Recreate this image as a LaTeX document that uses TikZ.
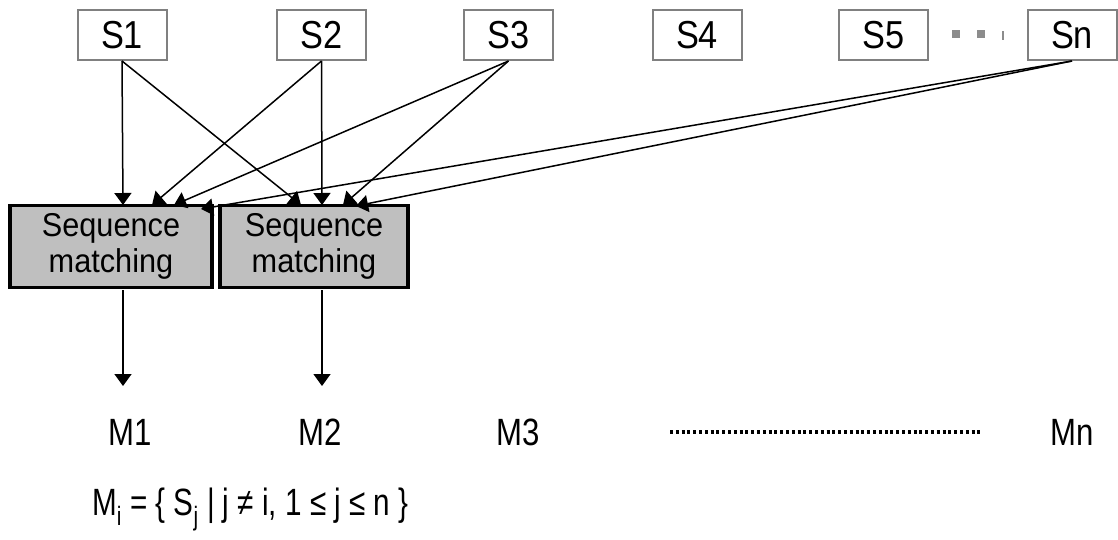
\documentclass[tikz,border=0pt]{standalone}
\usepackage{fontspec}
\setmainfont{Liberation Sans}
\newfontfamily\narrowsans[FakeStretch=0.82]{Liberation Sans}
\newfontfamily\formsans[FakeStretch=0.78]{Liberation Sans}
\newfontfamily\boxsans[FakeStretch=0.88]{Liberation Sans}
\newfontfamily\semisans[FakeStretch=0.93]{Liberation Sans}
\usetikzlibrary{arrows.meta}
\begin{document}
\begin{tikzpicture}[x=1pt,y=-1pt,
  sbox/.style={draw=black!50,line width=2pt,fill=white,minimum width=89pt,minimum height=50pt,inner sep=0pt,font=\boxsans\fontsize{39}{44}\selectfont},
  smbox/.style={draw=black,line width=3.5pt,fill=black!25,minimum height=82pt,inner sep=0pt,align=center,font=\semisans\fontsize{33}{36}\selectfont},
  mlabel/.style={inner sep=0pt,font=\narrowsans\fontsize{38}{44}\selectfont},
  conn/.style={line width=1.5pt,-{Triangle[length=12pt,width=17pt]}},
  greydot/.style={fill=black!45,draw=none}
]
\useasboundingbox (0,0) rectangle (1118,540);
% source boxes
\node[sbox] (s1) at (122,35) {S1};
\node[sbox] (s2) at (321.5,35) {S2};
\node[sbox] (s3) at (508.5,35) {S3};
\node[sbox] (s4) at (697,35) {S4};
\node[sbox] (s5) at (883.5,35) {S5};
\node[sbox] (sn) at (1072,35) {Sn};
% ellipsis between S5 and Sn
\fill[greydot] (952,30) rectangle (960,38);
\fill[greydot] (977,30) rectangle (985,38);
\fill[greydot] (1002,31) rectangle (1004,40);
% sequence matching boxes
\node[smbox,minimum width=202pt] (sm1) at (111,246.5) {Sequence\\matching};
\node[smbox,minimum width=188pt] (sm2) at (314,246.5) {Sequence\\matching};
% arrow targets on box tops
\coordinate (a11) at (123,205);
\coordinate (a12) at (152,205);
\coordinate (a13) at (174,205);
\coordinate (a1n) at (201,209);
\coordinate (a21) at (301,205);
\coordinate (a22) at (322,205);
\coordinate (a23) at (343,205);
\coordinate (a2n) at (356,206);
\coordinate (o1) at (123,290);
\coordinate (o2) at (322,290);
\coordinate (m1t) at (123,386);
\coordinate (m2t) at (322,386);
% connectors
\draw[conn] (s1.south) -- (a11);
\draw[conn] (s1.south) -- (a21);
\draw[conn] (s2.south) -- (a12);
\draw[conn] (s2.south) -- (a22);
\draw[conn] (s3.south) -- (a13);
\draw[conn] (s3.south) -- (a23);
\draw[conn] (sn.south) -- (a1n);
\draw[conn] (sn.south) -- (a2n);
\draw[conn] (o1) -- (m1t);
\draw[conn] (o2) -- (m2t);
% outputs
\node[mlabel,anchor=base] (m1) at (130,445) {M1};
\node[mlabel,anchor=base] (m2) at (320,445) {M2};
\node[mlabel,anchor=base] (m3) at (518,445) {M3};
\node[mlabel,anchor=base] (mn) at (1072,445) {Mn};
\coordinate (d1) at (670,432);
\coordinate (d2) at (980,432);
\draw[line width=3.5pt,dash pattern=on 3pt off 2.8pt] (d1) -- (d2);
% formula
\node[anchor=base west,inner sep=0pt,font=\formsans\fontsize{38}{44}\selectfont] (f) at (92,515)
  {M\textsubscript{i} = \{ S\textsubscript{j} | j ≠ i, 1 ≤ j ≤ n \}};
\end{tikzpicture}
\end{document}
